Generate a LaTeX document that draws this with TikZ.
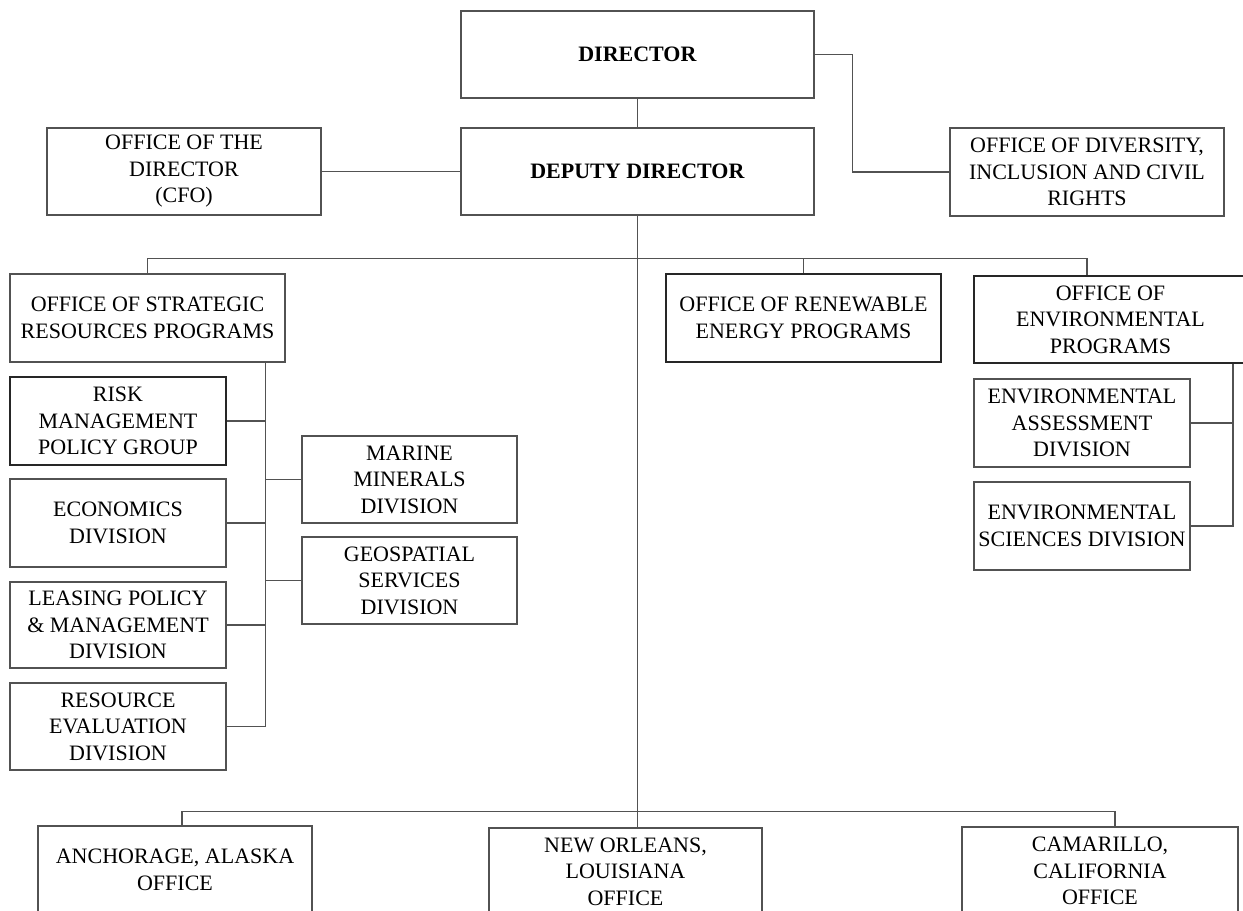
\documentclass[tikz,border=0pt]{standalone}
\usepackage{fontspec}
\setmainfont{Liberation Serif}
\definecolor{rulegray}{gray}{0.32}

\begin{document}
\begin{tikzpicture}[x=1bp,y=-1bp,
  unit/.style={draw=rulegray,line width=1.3bp,align=center,inner sep=0pt,
    font=\fontsize{22bp}{26.5bp}\selectfont},
  heavy/.style={draw=black!85,line width=2bp},
  link/.style={draw=rulegray,line width=1.4bp},
]
\useasboundingbox[fill=white] (0,0) rectangle (1243,911);

\node[unit,minimum width=353bp,minimum height=87bp] (dir) at (637.5,54.5) {\textbf{DIRECTOR}};
\node[unit,minimum width=353bp,minimum height=87bp] (dep) at (637.5,171.5) {\textbf{DEPUTY DIRECTOR}};
\node[unit,minimum width=274bp,minimum height=87bp] (cfo) at (184,171.5) {OFFICE OF THE\\DIRECTOR\\(CFO)};
\node[unit,minimum width=274bp,minimum height=88bp] (div) at (1087,172) {OFFICE OF DIVERSITY,\\INCLUSION AND CIVIL\\RIGHTS};

\node[unit,minimum width=275bp,minimum height=88bp] (osr) at (147.5,318) {OFFICE OF STRATEGIC\\RESOURCES PROGRAMS};
\node[unit,heavy,minimum width=275bp,minimum height=88bp] (ore) at (803.5,318) {OFFICE OF RENEWABLE\\ENERGY PROGRAMS};
\node[unit,heavy,minimum width=273bp,minimum height=87bp] (oep) at (1110.5,319.5) {OFFICE OF\\ENVIRONMENTAL\\PROGRAMS};

\node[unit,heavy,minimum width=216bp,minimum height=88bp] (risk) at (118,421) {RISK\\MANAGEMENT\\POLICY GROUP};
\node[unit,minimum width=216bp,minimum height=88bp] (econ) at (118,523) {ECONOMICS\\DIVISION};
\node[unit,minimum width=216bp,minimum height=86bp] (lease) at (118,625) {LEASING POLICY\\\& MANAGEMENT\\DIVISION};
\node[unit,minimum width=216bp,minimum height=87bp] (res) at (118,726.5) {RESOURCE\\EVALUATION\\DIVISION};
\node[unit,minimum width=215bp,minimum height=87bp] (mmd) at (409.5,479.5) {MARINE\\MINERALS\\DIVISION};
\node[unit,minimum width=215bp,minimum height=87bp] (geo) at (409.5,580.5) {GEOSPATIAL\\SERVICES\\DIVISION};

\node[unit,minimum width=216bp,minimum height=88bp] (ead) at (1082,423) {ENVIRONMENTAL\\ASSESSMENT\\DIVISION};
\node[unit,minimum width=216bp,minimum height=88bp] (esd) at (1082,526) {ENVIRONMENTAL\\SCIENCES DIVISION};

\node[unit,minimum width=274bp,minimum height=88bp] (anc) at (175,870) {ANCHORAGE, ALASKA\\OFFICE};
\node[unit,minimum width=273bp,minimum height=87bp] (nola) at (625.5,871.5) {NEW ORLEANS,\\LOUISIANA\\OFFICE};
\node[unit,minimum width=276bp,minimum height=88bp] (cam) at (1100,871) {CAMARILLO,\\CALIFORNIA\\OFFICE};

\draw[link] (dir.south) -- (dep.north);
\draw[link] (dir.east) -| ([xshift=-97bp]div.west) -- (div.west);
\draw[link] (cfo.east) -- (dep.west);
\draw[link] (dep.south) -- (dep.south |- nola.north);

\draw[link] (osr.north) -- ++(0,-15) -| ([xshift=-23.5bp]oep.north);
\draw[link] (ore.north) -- ++(0,-15);
\draw[link] ([xshift=7bp]anc.north) -- ++(0,-14) -| ([xshift=15bp]cam.north);

\coordinate (osr-spine) at ([xshift=-20bp]osr.south east);
\draw[link] (osr-spine) |- (res.east);
\foreach \kid in {risk,econ,lease}
  \draw[link] (\kid.east) -- (\kid.east -| osr-spine);
\foreach \kid in {mmd,geo}
  \draw[link] (\kid.west) -- (\kid.west -| osr-spine);

\coordinate (oep-spine) at ([xshift=-15bp]oep.south east);
\draw[link] (oep-spine) |- (esd.east);
\draw[link] (ead.east) -- (ead.east -| oep-spine);
\end{tikzpicture}
\end{document}
